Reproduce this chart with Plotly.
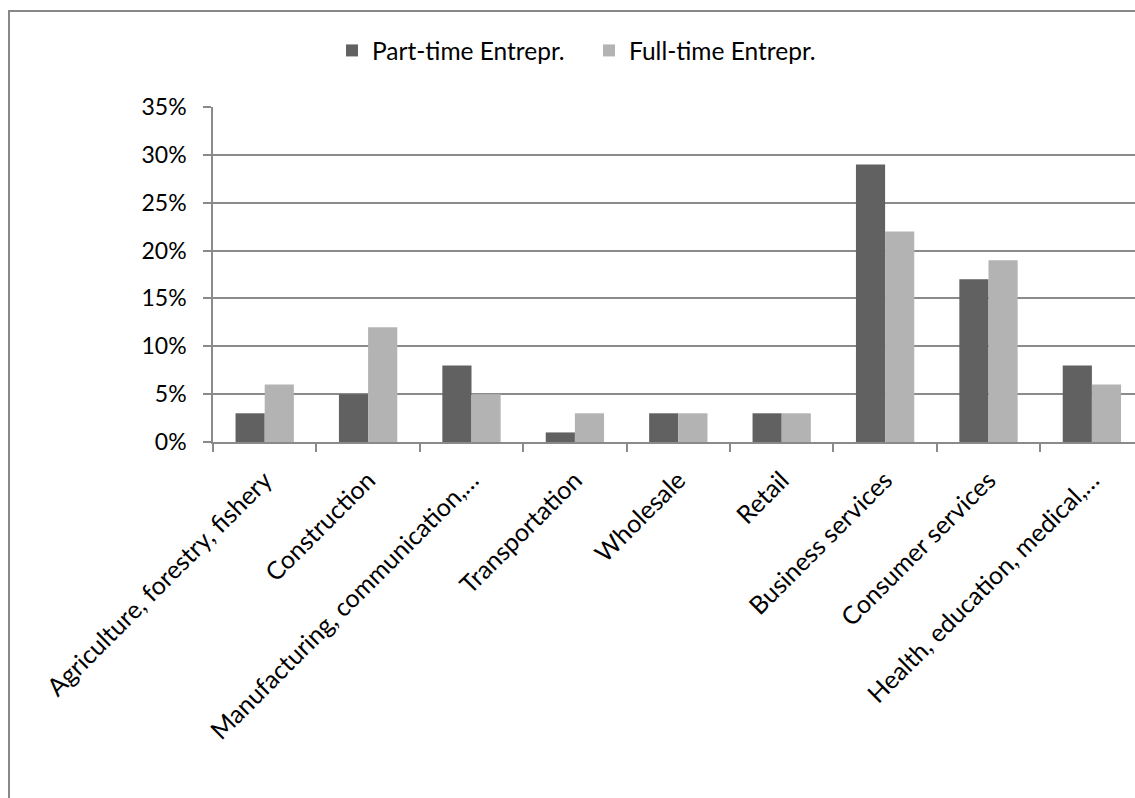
import plotly.graph_objects as go

categories = [
    "Agriculture, forestry, fishery",
    "Construction",
    "Manufacturing, communication,…",
    "Transportation",
    "Wholesale",
    "Retail",
    "Business services",
    "Consumer services",
    "Health, education, medical,…",
]
part_time = [0.03, 0.05, 0.08, 0.01, 0.03, 0.03, 0.29, 0.17, 0.08]
full_time = [0.06, 0.12, 0.05, 0.03, 0.03, 0.03, 0.22, 0.19, 0.06]
series_names = ["Part-time Entrepr.", "Full-time Entrepr."]
y_ticks = [0, 0.05, 0.10, 0.15, 0.20, 0.25, 0.30, 0.35]

FONT = "Lato"
GRID = "#8a8a8a"

fig = go.Figure()
fig.add_trace(go.Bar(x=categories, y=part_time, name=series_names[0],
                     marker=dict(color="#616161", line=dict(width=0))))
fig.add_trace(go.Bar(x=categories, y=full_time, name=series_names[1],
                     marker=dict(color="#b3b3b3", line=dict(width=0))))

W, H = 1135, 798
L, T = 213, 107
PW = W - L
PH = 335
B = H - T - PH

def px_x(p):
    return (p - L) / PW

def px_y(p):
    return (T + PH - p) / PH

fig.update_layout(
    width=W, height=H,
    margin=dict(l=L, r=0, t=T, b=B, pad=0),
    paper_bgcolor="white", plot_bgcolor="white",
    font=dict(family=FONT, size=23, color="black"),
    barmode="group", bargap=0.436, bargroupgap=0,
    showlegend=True,
    legend=dict(orientation="h", x=px_x(332), xanchor="left",
                y=px_y(50.5), yanchor="middle",
                entrywidth=212, entrywidthmode="pixels",
                font=dict(family=FONT, size=24.5, color="black"),
                bgcolor="rgba(0,0,0,0)", traceorder="normal"),
    xaxis=dict(type="category", range=[-0.5, -0.5 + PW / 103.4],
               showline=True, linecolor=GRID, linewidth=1.5,
               ticks="outside", tickson="boundaries", ticklen=8,
               tickcolor=GRID, tickwidth=1.5, tickangle=-45,
               showgrid=False, zeroline=False, ticklabelstandoff=12,
               tickfont=dict(family=FONT, size=25, color="black")),
    yaxis=dict(range=[0, 0.35], tickvals=y_ticks, tickformat=".0%",
               showline=True, linecolor=GRID, linewidth=1.5,
               ticks="outside", ticklen=8, tickcolor=GRID, tickwidth=1.5,
               showgrid=True, gridcolor=GRID, gridwidth=1.5,
               zeroline=False, ticklabelstandoff=12,
               tickfont=dict(family=FONT, size=23, color="black")),
    shapes=[dict(type="rect", xref="paper", yref="paper",
                 x0=px_x(9), x1=1.05, y0=px_y(820), y1=px_y(11),
                 line=dict(color="#888888", width=2), layer="below")],
)

fig.write_html("out.html")
